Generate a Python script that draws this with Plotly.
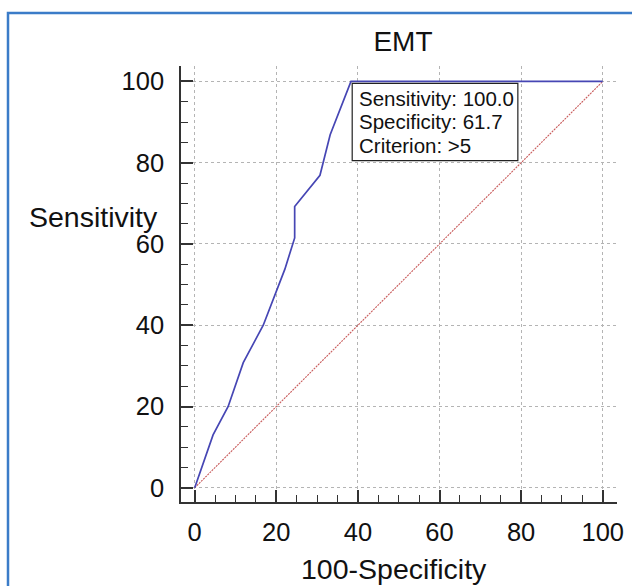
import plotly.graph_objects as go

# ROC curve data (100-Specificity vs Sensitivity)
fpr = [0, 4.5, 8.2, 11.9, 16.8, 22.1, 24.5, 24.5, 30.7, 33.2, 38.3, 100]
sens = [0, 13.0, 20.0, 30.8, 40.0, 53.8, 61.5, 69.2, 76.9, 86.9, 100, 100]
diag = [0, 100]
tick_vals = [0, 20, 40, 60, 80, 100]
box_lines = ["Sensitivity: 100.0", "Specificity: 61.7", "Criterion: >5"]

FONT = "Arial, Liberation Sans, sans-serif"

# plot area in pixels: x 181..617, y 66..502
PL, PR, PT, PB = 181, 617, 66, 502


def px_paper(px, py):
    return (px - PL) / (PR - PL), (PB - py) / (PB - PT)


fig = go.Figure()
fig.add_trace(go.Scatter(x=diag, y=diag, mode="lines",
                         line=dict(color="#c85a5a", width=1.1, dash="2px,1px"),
                         hoverinfo="skip", showlegend=False))
fig.add_trace(go.Scatter(x=fpr, y=sens, mode="lines",
                         line=dict(color="#4646b4", width=1.7),
                         showlegend=False))

axis_common = dict(
    tickvals=tick_vals, showline=True, linecolor="#333333", linewidth=1.5,
    ticks="inside", ticklen=12, tickwidth=1.5, tickcolor="#333333",
    minor=dict(dtick=5, ticks="inside", ticklen=7, tickwidth=1.2,
               tickcolor="#333333", showgrid=False),
    showgrid=True, gridcolor="#b4b4b4", griddash="dot", gridwidth=1,
    zeroline=False, tickfont=dict(family=FONT, size=25.5, color="#111111"),
    mirror=False, automargin=False,
)

fig.update_xaxes(range=[-3.36, 103.5], ticklabelstandoff=7, **axis_common)
fig.update_yaxes(range=[-3.5, 103.8], ticklabelstandoff=10, **axis_common)

# axis titles
xt = px_paper(394, 569)
fig.add_annotation(text="100-Specificity", xref="paper", yref="paper",
                   x=xt[0], y=xt[1], xanchor="center", yanchor="middle", showarrow=False,
                   font=dict(family=FONT, size=28.5, color="#111111"))
yt = px_paper(160, 217)
fig.add_annotation(text="Sensitivity", xref="paper", yref="paper",
                   x=yt[0], y=yt[1], xanchor="right", yanchor="middle", showarrow=False,
                   font=dict(family=FONT, size=28.5, color="#111111"))

# criterion box
fig.add_shape(type="rect", xref="x", yref="y", x0=38.6, x1=79.2, y0=80.5, y1=99.5,
              line=dict(color="#222222", width=1.2), fillcolor="white", layer="above")
for i, t in enumerate(box_lines):
    fig.add_annotation(text=t, xref="x", yref="y", x=39.8, y=(487.7 - (98.3 + 23.3 * i)) / 4.064,
                       xanchor="left", yanchor="middle", showarrow=False,
                       font=dict(family=FONT, size=20.5, color="#111111"))

# outer blue frame
f0 = px_paper(8, 620)
f1 = px_paper(650, 13)
fig.add_shape(type="rect", xref="paper", yref="paper",
              x0=f0[0], x1=f1[0], y0=f0[1], y1=f1[1],
              line=dict(color="#3b7cc8", width=2.5), fillcolor="rgba(0,0,0,0)")

fig.update_layout(
    width=632, height=586,
    margin=dict(l=PL, r=632 - PR, t=PT, b=586 - PB, autoexpand=False),
    paper_bgcolor="white", plot_bgcolor="white",
    title=dict(text="EMT", x=403 / 632, y=1 - 41 / 586, xanchor="center", yanchor="middle",
               font=dict(family=FONT, size=28, color="#111111")),
    showlegend=False,
)

fig.write_html("out.html", config={"displayModeBar": False},
               post_script="document.body.style.margin='0px';document.body.style.overflow='hidden';")
